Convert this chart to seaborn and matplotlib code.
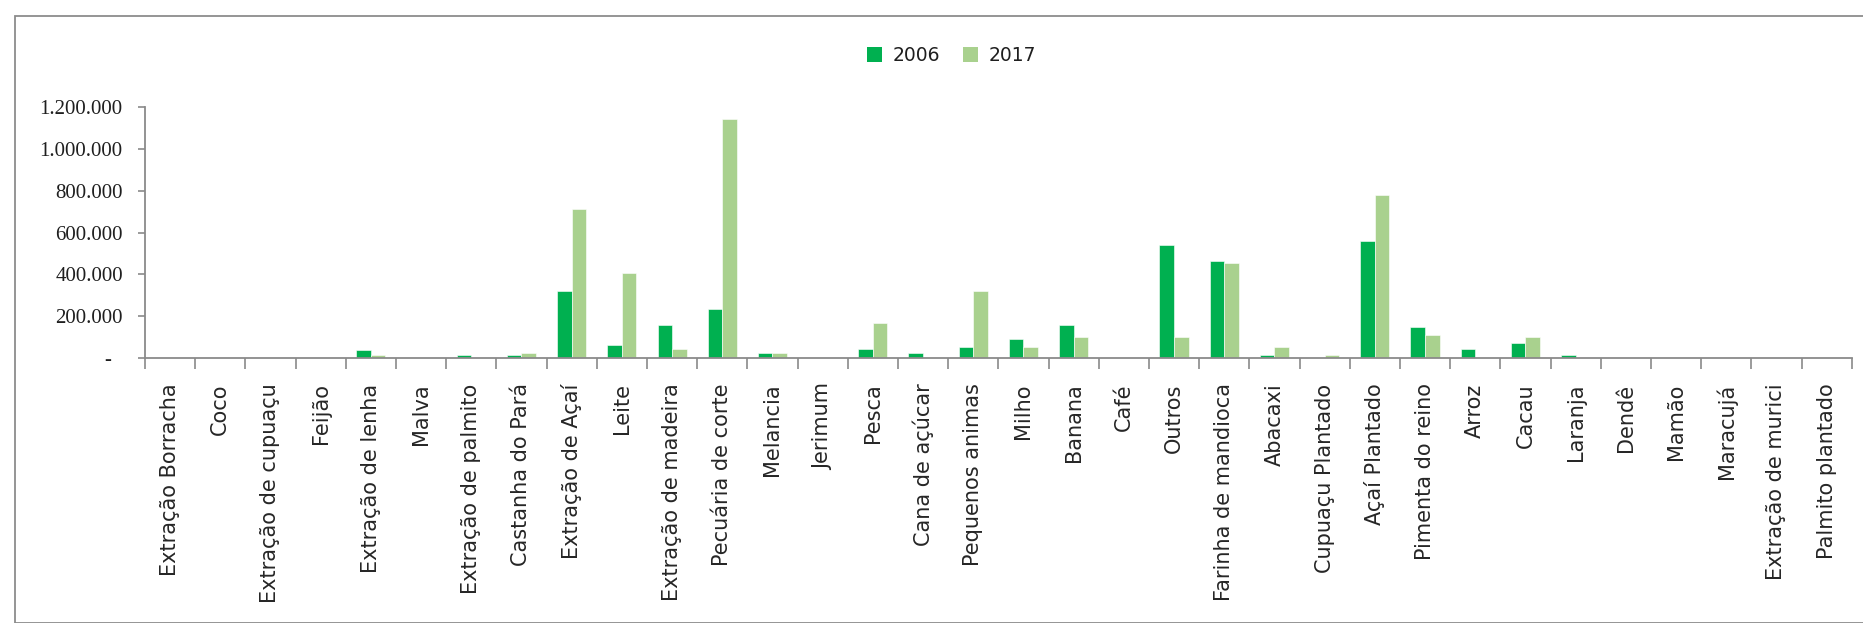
import matplotlib
matplotlib.use("Agg")
import matplotlib.pyplot as plt
from matplotlib.patches import Patch, Rectangle
from matplotlib.ticker import FixedLocator, FuncFormatter
import seaborn as sns
import pandas as pd

# Production by activity, 2006 vs 2017
categories = [
    "Extração Borracha", "Coco", "Extração de cupuaçu", "Feijão", "Extração de lenha",
    "Malva", "Extração de palmito", "Castanha do Pará", "Extração de Açaí", "Leite",
    "Extração de madeira", "Pecuária de corte", "Melancia", "Jerimum", "Pesca",
    "Cana de açúcar", "Pequenos animas", "Milho", "Banana", "Café", "Outros",
    "Farinha de mandioca", "Abacaxi", "Cupuaçu Plantado", "Açaí Plantado",
    "Pimenta do reino", "Arroz", "Cacau", "Laranja", "Dendê", "Mamão", "Maracujá",
    "Extração de murici", "Palmito plantado",
]
values_2006 = [
    0, 0, 0, 0, 35000, 0, 14000, 14000, 321000, 62000,
    158000, 235000, 24000, 0, 43000, 24000, 53000, 91000, 158000, 0, 541000,
    464000, 14000, 0, 560000, 148000, 43000, 72000, 14000, 0, 0, 0, 0, 0,
]
values_2017 = [
    0, 0, 0, 0, 14000, 0, 0, 24000, 713000, 407000,
    43000, 1146000, 24000, 0, 168000, 0, 321000, 53000, 101000, 0, 101000,
    455000, 53000, 14000, 780000, 110000, 0, 101000, 0, 0, 0, 0, 0, 0,
]
years = ["2006", "2017"]
y_ticks = [0, 200000, 400000, 600000, 800000, 1000000, 1200000]
y_tick_labels = ["-", "200.000", "400.000", "600.000", "800.000", "1.000.000", "1.200.000"]

colors = {"2006": "#00B050", "2017": "#A9D18E"}

df = pd.DataFrame({
    "categoria": categories * 2,
    "ano": [years[0]] * len(categories) + [years[1]] * len(categories),
    "valor": values_2006 + values_2017,
})

sns.set_style("white")
plt.rcParams["font.family"] = ["DejaVu Sans"]

W, H = 1863, 623
fig = plt.figure(figsize=(W / 100, H / 100), dpi=100)
ax = fig.add_axes([145 / W, 1 - 357.7 / H, (1851.7 - 145) / W, (357.7 - 107.3) / H])

sns.barplot(
    data=df, x="categoria", y="valor", hue="ano", order=categories,
    hue_order=years, palette=colors, saturation=1, width=0.58, gap=0,
    edgecolor="white", linewidth=0.4, ax=ax, legend=False,
)

ax.set_xlim(-0.5, len(categories) - 0.5)
ax.set_ylim(0, 1200000)
ax.set_xlabel("")
ax.set_ylabel("")

axis_gray = "#8a8a8a"
for side in ["top", "right"]:
    ax.spines[side].set_visible(False)
for side in ["left", "bottom"]:
    ax.spines[side].set_color(axis_gray)
    ax.spines[side].set_linewidth(1.3)

# y axis: Brazilian thousands separators, dash for zero
ax.yaxis.set_major_locator(FixedLocator(y_ticks))
label_map = dict(zip(y_ticks, y_tick_labels))


def fmt_y(v, pos):
    key = int(round(v))
    text = label_map.get(key, "")
    return text + "  " if key == 0 else text


ax.yaxis.set_major_formatter(FuncFormatter(fmt_y))
ax.tick_params(axis="y", which="major", left=True, direction="out", length=5,
               width=1.2, color=axis_gray, pad=11, labelsize=15,
               labelcolor="#1f1f1f")
for lbl in ax.get_yticklabels():
    lbl.set_family("Liberation Serif")

# x axis: labels at category centres, tick marks between categories
ax.set_xticks(range(len(categories)))
ax.set_xticklabels(categories, rotation=90, fontsize=15, color="#262626")
ax.set_xticks([i - 0.5 for i in range(len(categories) + 1)], minor=True)
ax.tick_params(axis="x", which="major", length=0, pad=18.5)
ax.tick_params(axis="x", which="minor", bottom=True, direction="out", length=8,
               width=1.2, color=axis_gray)

# legend above the plot area
handles = [Patch(facecolor=colors[y], edgecolor="none", label=y) for y in years]
fig.legend(handles=handles, loc="center", bbox_to_anchor=(951.5 / W, 1 - 55.5 / H),
           ncol=2, frameon=False, fontsize=13.5, handlelength=0.8, handleheight=0.8,
           handletextpad=0.6, columnspacing=1.2, labelcolor="#1f1f1f")

# chart frame
fig.patches.append(Rectangle((14.5 / W, 0), 1.2, 1 - 15.5 / H, transform=fig.transFigure,
                             fill=False, edgecolor="#8c8c8c", linewidth=1.3))

fig.savefig("out.png", dpi=100, facecolor="white")
